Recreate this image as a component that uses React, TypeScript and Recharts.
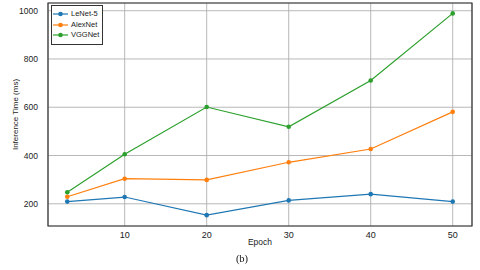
import React from 'react';
import {
  LineChart,
  Line,
  XAxis,
  YAxis,
  CartesianGrid,
  ReferenceArea
} from 'recharts';

const epochs = [3, 10, 20, 30, 40, 50];
const lenet = [209, 228, 153, 214, 240, 209];
const alexnet = [229, 304, 299, 372, 427, 581];
const vggnet = [248, 405, 601, 519, 711, 989];

const xTicks = [10, 20, 30, 40, 50];
const yTicks = [200, 400, 600, 800, 1000];

const seriesInfo = [
  { key: 'lenet', name: 'LeNet-5', color: '#1f77b4' },
  { key: 'alexnet', name: 'AlexNet', color: '#ff7f0e' },
  { key: 'vggnet', name: 'VGGNet', color: '#2ca02c' }
];

const chartData = epochs.map((epoch, i) => ({
  epoch,
  lenet: lenet[i],
  alexnet: alexnet[i],
  vggnet: vggnet[i]
}));

const font = 'Liberation Sans, Arial, sans-serif';

const ChartLegend = () => (
  <div
    style={{
      position: 'absolute',
      left: 51,
      top: 5,
      border: '1px solid #333',
      background: '#fff',
      padding: '3px 3px 3px 1px',
      fontFamily: font,
      fontSize: 7.5,
      color: '#222',
      lineHeight: '10.5px'
    }}
  >
    {seriesInfo.map(s => (
      <div key={s.key} style={{ display: 'flex', alignItems: 'center' }}>
        <svg width={15} height={8} style={{ marginRight: 3 }}>
          <line x1={0} y1={4} x2={15} y2={4} stroke={s.color} strokeWidth={1.2} />
          <circle cx={7.5} cy={4} r={2.3} fill={s.color} />
        </svg>
        <span>{s.name}</span>
      </div>
    ))}
  </div>
);

const App: React.FC = () => {
  return (
    <div style={{ position: 'fixed', left: 0, top: 0, width: 480, height: 270, background: '#fff' }}>
      <LineChart
        width={480}
        height={270}
        data={chartData}
        margin={{ top: 3, right: 8, left: 0, bottom: 0 }}
      >
        <CartesianGrid stroke="#b0b0b0" strokeWidth={0.9} />
        <XAxis
          dataKey="epoch"
          type="number"
          domain={[0.65, 52.35]}
          ticks={xTicks}
          height={44}
          tickLine={false}
          axisLine={false}
          tick={{ fill: '#222', fontSize: 9, fontFamily: font }}
          tickMargin={0}
          label={{
            value: 'Epoch',
            position: 'insideTop',
            offset: 13,
            style: { fill: '#222', fontSize: 8.5, fontFamily: font }
          }}
        />
        <YAxis
          type="number"
          domain={[108, 1032]}
          ticks={yTicks}
          width={48}
          tickLine={false}
          axisLine={false}
          tick={{ fill: '#222', fontSize: 8.5, fontFamily: font }}
          tickMargin={4}
          label={{
            value: 'Inference Time (ms)',
            angle: -90,
            position: 'insideLeft',
            offset: 15,
            style: { textAnchor: 'middle', fill: '#222', fontSize: 8, fontFamily: font }
          }}
        />
        <ReferenceArea
          x1={0.65}
          x2={52.35}
          y1={108}
          y2={1032}
          fill="none"
          stroke="#333"
          strokeWidth={1.2}
          ifOverflow="visible"
        />
        {seriesInfo.map(s => (
          <Line
            key={s.key}
            type="linear"
            dataKey={s.key}
            name={s.name}
            stroke={s.color}
            strokeWidth={1.2}
            dot={{ r: 2.3, fill: s.color, stroke: s.color, strokeWidth: 0 }}
            activeDot={false}
            isAnimationActive={false}
          />
        ))}
      </LineChart>
      <ChartLegend />
      <div
        style={{
          position: 'absolute',
          left: 0,
          width: 484,
          top: 253,
          textAlign: 'center',
          fontFamily: 'Liberation Serif, Times New Roman, serif',
          fontSize: 10.5,
          color: '#111'
        }}
      >
        (b)
      </div>
    </div>
  );
};

export default App;
